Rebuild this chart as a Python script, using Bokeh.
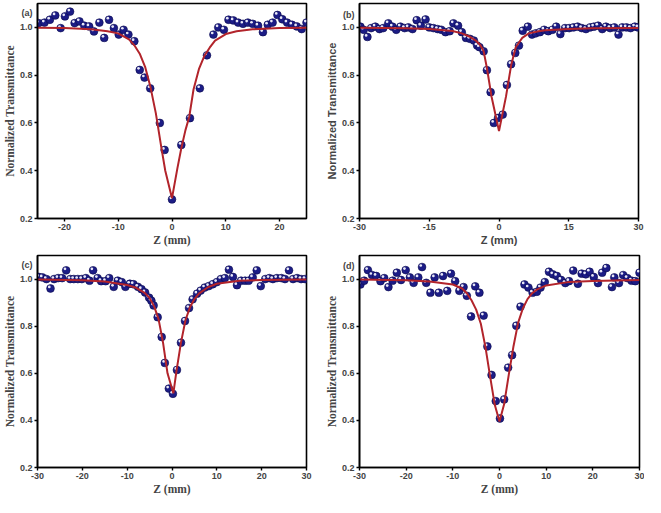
from bokeh.plotting import figure
from bokeh.layouts import column, row
from bokeh.models import ColumnDataSource, FixedTicker, PrintfTickFormatter, Range1d
from bokeh.transform import dodge
from bokeh.embed import file_html
from bokeh.resources import INLINE

# ---------------- data ----------------
# (a)
za = [-24.8, -23.7, -22.7, -21.7, -20.7, -19.9, -18.95, -18.1, -17.2, -16.3, -15.4, -14.5, -13.5, -12.6,
      -11.7, -10.8, -9.9, -9.0, -8.1, -7.0, -6.0, -5.1, -4.05, -2.26, -1.37, 0.0, 1.73, 3.34, 5.18, 6.5,
      7.7, 8.6, 9.65, 10.5, 11.4, 12.3, 13.2, 14.1, 15.0, 16.0, 16.9, 17.8, 18.7, 19.6, 20.5, 21.4, 22.3,
      23.2, 24.1, 25.0]
ta = [1.018, 1.02, 1.032, 1.05, 0.997, 1.046, 1.066, 1.018, 1.025, 1.007, 1.004, 0.983, 1.02, 0.956,
      1.032, 0.997, 0.97, 0.99, 0.97, 0.942, 0.822, 0.79, 0.745, 0.6, 0.487, 0.28, 0.508, 0.62, 0.745, 0.883,
      0.97, 1.0, 0.99, 1.032, 1.029, 1.02, 1.015, 1.02, 1.015, 1.007, 0.98, 1.011, 1.02, 1.052, 1.034, 1.02,
      1.011, 1.004, 0.993, 1.02]
fza = [-25, -20, -15, -12, -10, -8, -7, -6, -5, -4, -3, -2, -1.25, 0, 1, 1.73, 2.5, 3.2, 4, 5, 6, 7, 8,
       10, 12, 15, 20, 25]
fta = [0.999, 0.997, 0.992, 0.984, 0.975, 0.95, 0.925, 0.89, 0.835, 0.75, 0.64, 0.5, 0.40, 0.285, 0.41,
       0.494, 0.57, 0.625, 0.74, 0.825, 0.88, 0.915, 0.945, 0.972, 0.984, 0.992, 0.997, 0.999]

# (b)
zb = [-29.8, -29.1, -28.3, -27.5, -26.6, -25.7, -24.9, -23.8, -22.9, -22.1, -21.2, -20.3, -19.5, -18.6,
      -17.7, -16.8, -15.8, -15.0, -14.1, -13.2, -12.4, -11.5, -10.6, -9.8, -8.8, -8.0, -7.1, -6.25, -5.4,
      -4.7, -4.2, -3.3, -2.6, -1.8, -1.1, -0.2, 0.8, 1.7, 2.6, 3.5, 4.3, 5.1, 6.2, 7.1, 7.9, 8.8, 9.7,
      10.6, 11.5, 12.3, 13.2, 14.2, 15.1, 16.0, 16.9, 17.8, 18.7, 19.6, 20.4, 21.3, 22.2, 23.0, 23.9,
      24.8, 25.7, 26.5, 27.4, 28.3, 29.2, 29.9]
tb = [1.003, 0.99, 0.96, 0.997, 1.003, 0.993, 0.997, 1.017, 1.003, 0.99, 1.003, 0.997, 1.0, 0.993,
      1.03, 1.007, 1.033, 1.0, 0.997, 0.993, 0.99, 0.98, 0.984, 1.017, 1.007, 0.98, 0.956, 0.952, 0.945,
      0.924, 0.917, 0.9, 0.821, 0.729, 0.6, 0.621, 0.635, 0.759, 0.846, 0.893, 0.924, 0.986, 1.003, 0.97,
      0.975, 0.98, 0.99, 0.984, 0.99, 1.003, 0.972, 0.997, 0.997, 1.0, 1.003, 0.997, 0.993, 1.0, 1.003,
      1.007, 0.993, 1.003, 0.997, 1.0, 0.97, 1.0, 1.0, 0.997, 1.003, 1.0]
fzb = [-30, -20, -15, -10, -8, -6.4, -5, -4, -3.3, -2.6, -1.6, 0, 1.5, 2.6, 3.6, 5.0, 6.4, 8.5, 10,
       15, 20, 30]
ftb = [0.998, 0.996, 0.993, 0.985, 0.975, 0.962, 0.945, 0.925, 0.9, 0.83, 0.71, 0.566, 0.71, 0.84,
       0.917, 0.956, 0.975, 0.984, 0.988, 0.993, 0.996, 0.997]

# (c)
zc = [-29.7, -28.9, -28.0, -27.1, -26.3, -25.4, -24.5, -23.6, -22.7, -21.9, -21.0, -20.1, -19.2, -18.4,
      -17.6, -16.6, -15.8, -14.8, -14.0, -13.0, -12.1, -11.2, -10.4, -9.4, -8.6, -7.6, -6.8, -6.0, -5.1,
      -4.6, -4.1, -3.2, -2.3, -1.6, -0.7, 0.2, 1.1, 2.0, 2.9, 3.8, 4.6, 5.6, 6.4, 7.3, 8.2, 9.1, 10.0,
      10.9, 11.8, 12.7, 13.6, 14.5, 15.4, 16.3, 17.1, 18.0, 18.9, 19.8, 20.8, 21.7, 22.5, 23.4, 24.4,
      25.2, 26.1, 27.0, 27.9, 28.8, 29.7]
tc = [1.009, 1.007, 1.0, 0.96, 1.0, 1.004, 1.004, 1.037, 1.0, 1.0, 1.0, 1.0, 1.004, 0.993, 1.037,
      1.004, 0.991, 0.991, 1.004, 0.967, 0.993, 0.987, 0.967, 0.98, 0.978, 0.967, 0.957, 0.943, 0.921,
      0.908, 0.888, 0.838, 0.754, 0.644, 0.535, 0.513, 0.614, 0.73, 0.822, 0.877, 0.914, 0.938, 0.951,
      0.964, 0.97, 0.978, 0.987, 1.0, 1.004, 1.04, 1.009, 0.974, 0.993, 0.993, 0.993, 1.007, 1.037, 0.97,
      1.0, 1.004, 1.0, 1.004, 1.004, 1.0, 1.037, 1.0, 1.004, 1.0, 1.0]
fzc = [-30, -20, -15, -10, -8, -6, -5, -4, -3, -2, -1, 0.3, 1, 2, 3, 4, 5, 6, 8, 10, 15, 20, 30]
ftc = [0.998, 0.995, 0.99, 0.975, 0.963, 0.94, 0.92, 0.885, 0.83, 0.73, 0.6, 0.515, 0.61, 0.73, 0.825,
       0.88, 0.915, 0.938, 0.965, 0.98, 0.993, 0.996, 0.998]

# (d)
zd = [-29.8, -29.0, -28.2, -27.3, -26.4, -25.5, -24.7, -23.8, -22.9, -22.0, -21.1, -20.1, -19.2, -18.4,
      -17.4, -16.6, -15.7, -14.8, -13.9, -13.0, -12.1, -11.2, -10.4, -9.5, -8.6, -7.7, -7.0, -6.1, -5.2,
      -4.3, -3.4, -2.6, -1.7, -0.8, 0.1, 1.0, 1.85, 2.7, 3.6, 4.5, 5.35, 6.2, 7.1, 8.0, 8.8, 9.7, 10.6,
      11.45, 12.3, 13.2, 14.1, 14.9, 15.8, 16.8, 17.6, 18.5, 19.3, 20.2, 21.1, 22.0, 22.9, 24.1, 24.6,
      25.6, 26.5, 27.4, 28.3, 29.1, 30.0]
td = [0.977, 0.993, 1.038, 1.017, 1.013, 0.991, 1.004, 0.966, 0.993, 1.027, 0.996, 1.038, 1.007, 0.984,
      1.007, 1.051, 0.984, 0.942, 1.007, 0.942, 1.013, 0.95, 1.023, 0.991, 0.95, 0.966, 0.929, 0.841,
      0.969, 0.942, 0.845, 0.714, 0.593, 0.482, 0.408, 0.489, 0.624, 0.677, 0.802, 0.883, 0.977, 0.964,
      0.942, 0.946, 0.964, 0.987, 1.031, 1.02, 1.013, 0.996, 0.983, 0.991, 1.036, 0.98, 1.023, 1.02,
      1.031, 1.009, 0.983, 1.027, 1.047, 0.966, 1.007, 0.983, 1.017, 1.004, 0.993, 0.991, 1.027]
fzd = [-30, -20, -15, -10, -8, -7, -6, -5, -4, -3, -2, -1, 0, 1, 2, 3, 4, 5, 6, 7, 8, 10, 15, 20, 30]
ftd = [0.998, 0.995, 0.99, 0.977, 0.96, 0.94, 0.91, 0.87, 0.81, 0.71, 0.585, 0.465, 0.395, 0.47,
       0.595, 0.715, 0.815, 0.875, 0.915, 0.94, 0.955, 0.973, 0.988, 0.992, 0.996]

y_ticks = [0.2, 0.4, 0.6, 0.8, 1.0]
xticks_a = [-20, -10, 0, 10, 20]
xticks_b = [-30, -15, 0, 15, 30]
xticks_cd = [-30, -20, -10, 0, 10, 20, 30]
tags = ["(a)", "(b)", "(c)", "(d)"]

SERIF = "Liberation Serif"
SANS = "Liberation Sans"


def panel(tag, z, t, fz, ft, xlim, xticks, w, h, bl, br, bt, bb, lab_font, tag_y):
    p = figure(width=w, height=h, x_range=Range1d(*xlim), y_range=Range1d(0.2, 1.1),
               output_backend="svg", toolbar_location=None,
               min_border_left=bl, min_border_right=br, min_border_top=bt, min_border_bottom=bb)
    p.grid.visible = False
    p.outline_line_color = "black"
    p.outline_line_width = 1.6
    p.outline_line_alpha = 1.0
    p.background_fill_color = "white"
    p.border_fill_color = "white"

    src = ColumnDataSource(dict(x=z, y=t))
    span = xlim[1] - xlim[0]
    dx = -0.0045 * span
    p.scatter("x", "y", source=src, size=7.8, fill_color="#1c1c86", line_color="#0c0c4e",
              line_width=0.6)
    p.scatter(x=dodge("x", dx, range=p.x_range), y=dodge("y", 0.0065, range=p.y_range),
              source=src, size=2.7, fill_color="#e8e8f6", line_color=None)
    p.line(fz, ft, line_color="#b2242b", line_width=2)

    p.xaxis.ticker = FixedTicker(ticks=xticks)
    # panel tag shown as an extra (mark-less) label in the y tick-label column
    p.yaxis.ticker = FixedTicker(ticks=y_ticks + [tag_y], minor_ticks=y_ticks)
    p.xaxis.formatter = PrintfTickFormatter(format="%d")
    p.yaxis.formatter = PrintfTickFormatter(format="%.1f")
    p.yaxis.major_label_overrides = {tag_y: tag}
    p.xaxis.axis_label = "Z (mm)"
    p.yaxis.axis_label = "Normalized Transmittance"
    for ax in (p.xaxis[0], p.yaxis[0]):
        ax.axis_line_width = 1.6
        ax.major_tick_line_width = 1.4
        ax.minor_tick_line_width = 1.4
        ax.major_tick_in = 0
        ax.minor_tick_in = 0
        ax.major_label_text_font = SANS
        ax.major_label_text_font_style = "bold"
        ax.major_label_text_font_size = "9px"
        ax.major_label_standoff = 2
        ax.axis_label_text_font = lab_font
        ax.axis_label_text_font_style = "bold"
        ax.axis_label_text_font_size = "11.5px" if lab_font == SERIF else "11px"
        ax.axis_label_standoff = 1
    p.xaxis.major_tick_out = 3
    p.xaxis.minor_tick_out = 0
    p.yaxis.major_tick_out = 0
    p.yaxis.minor_tick_out = 3
    return p


pa = panel(tags[0], za, ta, fza, fta, (-25, 25), xticks_a, 322, 248, 31, 16, 3, 30, SERIF, 1.06)
pb = panel(tags[1], zb, tb, fzb, ftb, (-30, 30), xticks_b, 322, 248, 34, 6, 3, 30, SANS, 1.05)
pc = panel(tags[2], zc, tc, fzc, ftc, (-30, 30), xticks_cd, 322, 249, 31, 16, 2, 27, SERIF, 1.06)
pd = panel(tags[3], zd, td, fzd, ftd, (-30, 30), xticks_cd, 322, 249, 33, 5, 7, 27, SERIF, 1.055)

layout = column(row(pa, pb), row(pc, pd))
open("out.html", "w").write(file_html(layout, INLINE))
